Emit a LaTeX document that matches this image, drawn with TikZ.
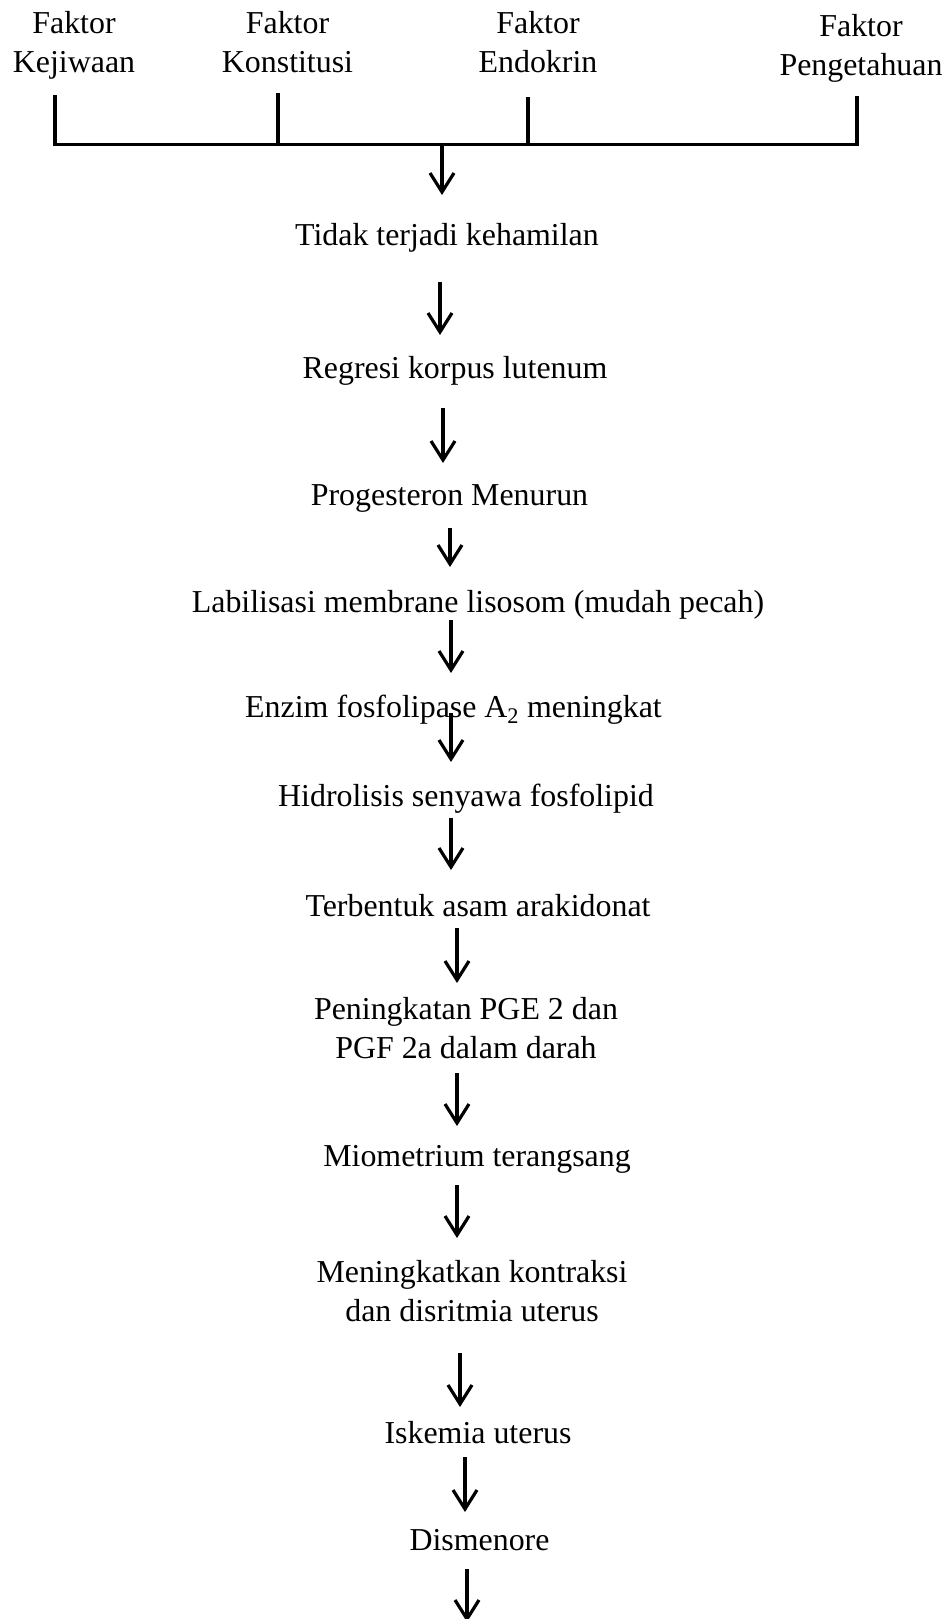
\documentclass[tikz,border=0pt]{standalone}
\usepackage{fontspec}
\setmainfont{Liberation Serif}
\usetikzlibrary{arrows.meta}
\begin{document}
\begin{tikzpicture}[x=1pt,y=-1pt,
  txt/.style={font=\fontsize{31.9pt}{39pt}\selectfont, inner sep=0pt, anchor=base, align=center},
  ln/.style={line width=3.2pt},
  arr/.style={line width=3.2pt, -{Straight Barb[length=19pt,width=24pt]}}]
\useasboundingbox (0,0) rectangle (949,1619);
% factors (base = baseline of the last line)
\node[txt] (k1) at (74,72.5) {Faktor\\Kejiwaan};
\node[txt] (k2) at (287.5,72.5) {Faktor\\Konstitusi};
\node[txt] (k3) at (538,72.5) {Faktor\\Endokrin};
\node[txt] (k4) at (861,75) {Faktor\\Pengetahuan};
% chain
\node[txt] (tidak) at (447,245) {Tidak terjadi kehamilan};
\node[txt] (regresi) at (455,378) {Regresi korpus lutenum};
\node[txt] (progest) at (449.5,505) {Progesteron Menurun};
\node[txt] (labil) at (478,612) {Labilisasi membrane lisosom (mudah pecah)};
\node[txt] (enzim) at (453.5,717) {Enzim fosfolipase A\textsubscript{2} meningkat};
\node[txt] (hidro) at (466,806) {Hidrolisis senyawa fosfolipid};
\node[txt] (terb) at (478,916) {Terbentuk asam arakidonat};
\node[txt] (pening) at (466,1058) {Peningkatan PGE 2 dan\\PGF 2a dalam darah};
\node[txt] (miom) at (477,1166) {Miometrium terangsang};
\node[txt] (menin) at (472,1321) {Meningkatkan kontraksi\\dan disritmia uterus};
\node[txt] (isk) at (478,1443) {Iskemia uterus};
\node[txt] (dism) at (479.5,1550) {Dismenore};
% bus
\coordinate (t1) at ([shift={(-19,22.5)}]k1.base);
\coordinate (t2) at ([shift={(-9.5,20.5)}]k2.base);
\coordinate (t3) at ([shift={(-10,24.5)}]k3.base);
\coordinate (t4) at ([shift={(-4,21)}]k4.base);
\coordinate (bus) at (442,144.5);
\coordinate (out) at (467,1622);
\draw[ln] (t1) |- (bus);
\draw[ln] (t4) |- (bus);
\draw[ln] (t2) -- (t2 |- bus);
\draw[ln] (t3) -- (t3 |- bus);
% arrows
\draw[arr] (bus) -- ([shift={(-5,-50)}]tidak.base);
\draw[arr] ([shift={(-7,37)}]tidak.base) -- ([shift={(-15,-43)}]regresi.base);
\draw[arr] ([shift={(-12,30)}]regresi.base) -- ([shift={(-6.5,-42)}]progest.base);
\draw[arr] ([shift={(0.5,23)}]progest.base) -- ([shift={(-28,-45)}]labil.base);
\draw[arr] ([shift={(-27,8)}]labil.base) -- ([shift={(-2.5,-44)}]enzim.base);
\draw[arr] ([shift={(-2.5,-4)}]enzim.base) -- ([shift={(-15,-44)}]hidro.base);
\draw[arr] ([shift={(-15,12)}]hidro.base) -- ([shift={(-27,-46)}]terb.base);
\draw[arr] ([shift={(-21,12)}]terb.base) -- ([shift={(-9,-75)}]pening.base);
\draw[arr] ([shift={(-9,15)}]pening.base) -- ([shift={(-20,-40)}]miom.base);
\draw[arr] ([shift={(-20,19)}]miom.base) -- ([shift={(-15,-83)}]menin.base);
\draw[arr] ([shift={(-12,32)}]menin.base) -- ([shift={(-18,-36)}]isk.base);
\draw[arr] ([shift={(-13,14)}]isk.base) -- ([shift={(-14.5,-38)}]dism.base);
\draw[arr] ([shift={(-12.5,19)}]dism.base) -- (out);
\end{tikzpicture}
\end{document}
